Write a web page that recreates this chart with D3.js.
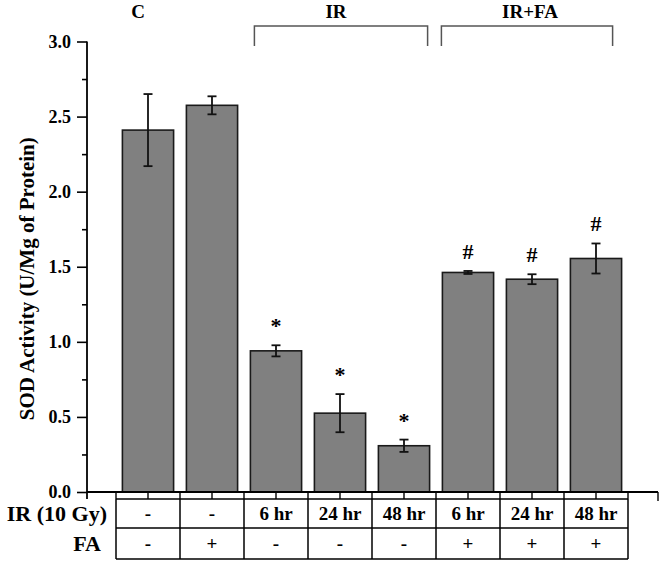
<!DOCTYPE html>
<html>
<head>
<meta charset="utf-8">
<script src="https://cdn.jsdelivr.net/npm/d3@7"></script>
<style>
  html, body { margin: 0; padding: 0; background: #fff; }
  svg { display: block; }
  svg text { font-family: "Liberation Serif", "Times New Roman", serif !important; font-weight: bold; fill: #000; }
</style>
</head>
<body>
<svg id="chart" width="664" height="566"></svg>
<script>
// ---- data ----
const categories = ["C-", "C+", "IR 6", "IR 24", "IR 48", "IR+FA 6", "IR+FA 24", "IR+FA 48"];
const sodValues  = [2.41, 2.575, 0.94, 0.525, 0.308, 1.462, 1.417, 1.555];
const sodErrors  = [0.24, 0.06, 0.037, 0.127, 0.041, 0.01, 0.033, 0.10];
const sigMarks   = ["", "", "*", "*", "*", "#", "#", "#"];
const irRow      = ["-", "-", "6 hr", "24 hr", "48 hr", "6 hr", "24 hr", "48 hr"];
const faRow      = ["-", "+", "-", "-", "-", "+", "+", "+"];
const rowLabels  = ["IR (10 Gy)", "FA"];
const yMajorTicks = [0, 0.5, 1.0, 1.5, 2.0, 2.5, 3.0];
const yMinorTicks = [0.25, 0.75, 1.25, 1.75, 2.25, 2.75];
const groupLabels = ["C", "IR", "IR+FA"];
const groupFirst  = [0, 2, 5];
const groupLast   = [1, 4, 7];
const groupBracket = [false, true, true];
const yLabel = "SOD Activity (U/Mg of Protein)";

// ---- layout ----
const FONT = "Liberation Serif, Times New Roman, serif";
const svg = d3.select("#chart");
const axisX = 87, axisRight = 658;
const y = d3.scaleLinear().domain([0, 3]).range([492, 41.5]);
const x = d3.scaleBand().domain(categories).range([116, 628]).paddingInner(0.2).paddingOuter(0.1);
const bw = x.bandwidth();
const cx = i => x(categories[i]) + bw / 2;

// bars
svg.append("g").selectAll("rect").data(categories).join("rect")
  .attr("x", d => x(d))
  .attr("y", (d, i) => y(sodValues[i]))
  .attr("width", bw)
  .attr("height", (d, i) => y(0) - y(sodValues[i]))
  .attr("fill", "#808080")
  .attr("stroke", "#1a1a1a")
  .attr("stroke-width", 1.6);

// error bars
const eb = svg.append("g").attr("stroke", "#111").attr("stroke-width", 1.8);
categories.forEach((c, i) => {
  const t = y(sodValues[i] + sodErrors[i]), b = y(sodValues[i] - sodErrors[i]);
  eb.append("line").attr("x1", cx(i)).attr("x2", cx(i)).attr("y1", t).attr("y2", b);
  eb.append("line").attr("x1", cx(i) - 4.5).attr("x2", cx(i) + 4.5).attr("y1", t).attr("y2", t);
  eb.append("line").attr("x1", cx(i) - 4.5).attr("x2", cx(i) + 4.5).attr("y1", b).attr("y2", b);
});

// significance marks
svg.append("g").selectAll("text").data(sigMarks).join("text")
  .attr("x", (d, i) => cx(i))
  .attr("y", (d, i) => y(sodValues[i] + sodErrors[i]) - 12)
  .attr("text-anchor", "middle")
  .attr("font-family", FONT).attr("font-weight", "bold")
  .attr("font-size", 22)
  .text(d => d);

// y axis
const yAxisG = svg.append("g").attr("transform", `translate(${axisX},0)`);
yAxisG.call(d3.axisLeft(y).tickValues(yMajorTicks).tickFormat(d3.format(".1f")).tickSize(10).tickPadding(6))
  .call(g => g.select(".domain").remove());
yAxisG.selectAll(".tick line").attr("stroke", "#000").attr("stroke-width", 1.6);
yAxisG.selectAll(".tick text")
  .attr("font-family", FONT).attr("font-weight", "bold")
  .attr("font-size", 18).attr("fill", "#000");
yAxisG.append("g").call(d3.axisLeft(y).tickValues(yMinorTicks).tickFormat("").tickSize(5))
  .call(g => g.select(".domain").remove())
  .selectAll(".tick line").attr("stroke", "#000").attr("stroke-width", 1.6);
svg.append("line").attr("x1", axisX).attr("x2", axisX).attr("y1", y(3)).attr("y2", 499)
  .attr("stroke", "#000").attr("stroke-width", 1.8);

// y label
svg.append("text")
  .attr("transform", `translate(34,${(y(0) + y(3)) / 2 + 12}) rotate(-90)`)
  .attr("text-anchor", "middle")
  .attr("font-family", FONT).attr("font-weight", "bold")
  .attr("font-size", 21)
  .text(yLabel);

// x axis
svg.append("line").attr("x1", axisX).attr("x2", axisRight).attr("y1", y(0)).attr("y2", y(0))
  .attr("stroke", "#000").attr("stroke-width", 1.8);
const xTickPos = [];
categories.forEach((c, i) => { xTickPos.push(x(c) - x.step() * x.paddingInner() / 2); xTickPos.push(cx(i)); });
xTickPos.push(x(categories[7]) + bw + x.step() * x.paddingInner() / 2);
svg.append("g").selectAll("line").data(xTickPos).join("line")
  .attr("x1", d => d).attr("x2", d => d).attr("y1", y(0)).attr("y2", 499)
  .attr("stroke", "#000").attr("stroke-width", 1.4);
svg.append("line").attr("x1", axisRight).attr("x2", axisRight).attr("y1", y(0)).attr("y2", 501)
  .attr("stroke", "#000").attr("stroke-width", 1.4);

// table
const tLeft = x.range()[0], tRight = x.range()[1];
const rowY = [499, 528, 559];
const tg = svg.append("g").attr("stroke", "#000").attr("stroke-width", 1.5);
rowY.forEach(r => tg.append("line").attr("x1", tLeft).attr("x2", tRight).attr("y1", r).attr("y2", r));
d3.range(categories.length + 1).forEach(k => {
  const xx = tLeft + k * x.step();
  tg.append("line").attr("x1", xx).attr("x2", xx).attr("y1", rowY[0]).attr("y2", rowY[2]);
});
[irRow, faRow].forEach((row, r) => {
  svg.append("g").selectAll("text").data(row).join("text")
    .attr("x", (d, i) => cx(i))
    .attr("y", (rowY[r] + rowY[r + 1]) / 2 + 6)
    .attr("text-anchor", "middle")
    .attr("font-family", FONT).attr("font-weight", "bold")
    .attr("font-size", 19)
    .text(d => d);
});
svg.append("g").selectAll("text").data(rowLabels).join("text")
  .attr("x", (d, i) => i === 0 ? 107 : 101)
  .attr("y", (d, i) => (rowY[i] + rowY[i + 1]) / 2 + 7)
  .attr("text-anchor", "end")
  .attr("font-family", FONT).attr("font-weight", "bold")
  .attr("font-size", 22)
  .text(d => d);

// group labels and brackets
const labelX = [cx(0) - 10, null, null];
groupLabels.forEach((g, i) => {
  let lx;
  if (groupBracket[i]) {
    const x1 = x(categories[groupFirst[i]]) + (i === 1 ? 4 : -1);
    const x2 = x(categories[groupLast[i]]) + bw - (i === 1 ? 2 : 9);
    svg.append("path")
      .attr("d", `M${x1},46V26H${x2}V46`)
      .attr("fill", "none").attr("stroke", "#555").attr("stroke-width", 1.5);
    lx = (x1 + x2) / 2 - (i === 1 ? 5 : -3);
  } else {
    lx = labelX[i];
  }
  svg.append("text").attr("x", lx).attr("y", 18).attr("text-anchor", "middle")
    .attr("font-family", FONT).attr("font-weight", "bold")
    .attr("font-size", 19).text(g);
});
</script>
</body>
</html>
